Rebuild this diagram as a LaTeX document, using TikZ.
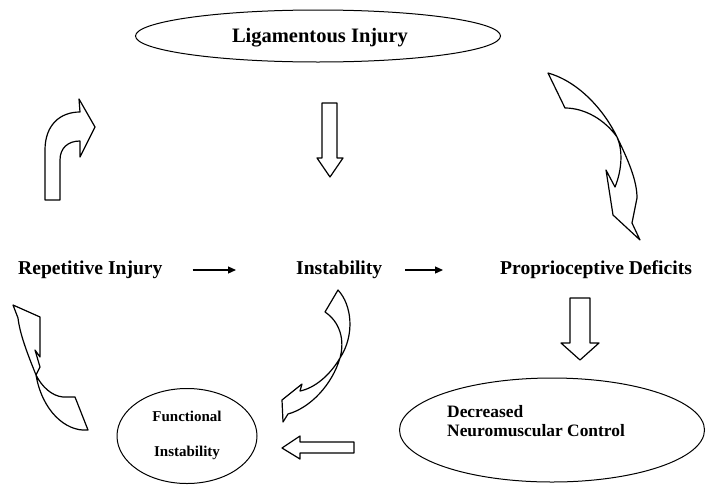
\documentclass[tikz,border=0pt]{standalone}
\usepackage{fontspec}
\setmainfont{Liberation Serif}
\usepackage{tikz}
\usetikzlibrary{arrows.meta}
\usetikzlibrary{shapes.geometric}

\begin{document}
\begin{tikzpicture}[x=1pt,y=-1pt,
    bubble/.style={ellipse,draw,line width=1pt,inner sep=0pt},
    label/.style={font=\fontsize{19.6}{22}\selectfont\bfseries,inner sep=0pt},
    small/.style={font=\fontsize{15}{35}\selectfont\bfseries,inner sep=0pt,align=center},
    thin/.style={line width=1.2pt,-{Triangle[length=8pt,width=7pt]}},
    block/.style={line width=1.2pt,line join=round}]
\useasboundingbox (0,0) rectangle (709,485);
        \node[bubble,minimum width=365pt,minimum height=52pt] (lig) at (318,36) {};
        \node[label,font=\fontsize{20.5}{22}\selectfont\bfseries] (ligtext) at (320,38) {Ligamentous Injury};
        \node[label,anchor=west] (rep) at (18,270) {Repetitive Injury};
        \node[label,anchor=west] (inst) at (296,270) {Instability};
        \node[label,anchor=west] (prop) at (500,270) {Proprioceptive Deficits};
        \draw[thin,shorten <=30pt,shorten >=60pt] (rep.east) -- (inst.west);
        \draw[thin,shorten <=23pt,shorten >=57pt] (inst.east) -- (prop.west);
\node[bubble,minimum width=305pt,minimum height=104pt] (dec) at (552,430) {};
\node[label,align=left,anchor=north west,font=\fontsize{17.4}{19}\selectfont\bfseries] (dectext) at (447,405) {Decreased\\Neuromuscular Control};
\node[bubble,minimum width=140pt,minimum height=95pt] (func) at (187,436) {};
\node[small] (functext) at (187,435) {Functional\\Instability};
% block arrows
\draw[block] (322,103) -- (337,103) -- (337,158) -- (343,158) -- (330,177) -- (317,158) -- (322,158) -- cycle;
\draw[block] (570,298) -- (590,298) -- (590,343) -- (599,343) -- (580,360) -- (561,343) -- (570,343) -- cycle;
\draw[block] (354,442) -- (300,442) -- (300,436) -- (282,448) -- (300,459) -- (300,453) -- (354,453) -- cycle;
\draw[block] (45,200) -- (45,150) .. controls (45,125) and (60,112) .. (80,112) -- (79,99) -- (95,127) -- (80,157)
    -- (80,141) .. controls (68,141) and (60,148) .. (60,160) -- (60,200) -- cycle;
% twisted arrows
\draw[block] (548,73) .. controls (580,82) and (605,112) .. (617,137) .. controls (628,160) and (637,180) .. (637,198)
    -- (632,223) -- (640,240) -- (613,215) -- (606,170) -- (615,187) .. controls (622,170) and (623,150) .. (617,137)
    .. controls (605,120) and (585,108) .. (565,108) -- cycle;
\draw[block] (338,290) .. controls (352,305) and (355,335) .. (340,358) .. controls (330,375) and (315,388) .. (300,391)
    -- (302,384) -- (282,400) -- (283,422) -- (288,414) .. controls (310,408) and (332,385) .. (340,358)
    .. controls (345,340) and (340,322) .. (325,312) -- cycle;
\draw[block] (13,305) -- (40,317) -- (40,357) -- (35,350) -- (40,367) -- (36,375) .. controls (42,387) and (52,396) .. (63,397)
    -- (75,397) -- (88,430) .. controls (65,432) and (42,410) .. (36,375) .. controls (28,355) and (20,335) .. (18,318) -- cycle;
\end{tikzpicture}
\end{document}
